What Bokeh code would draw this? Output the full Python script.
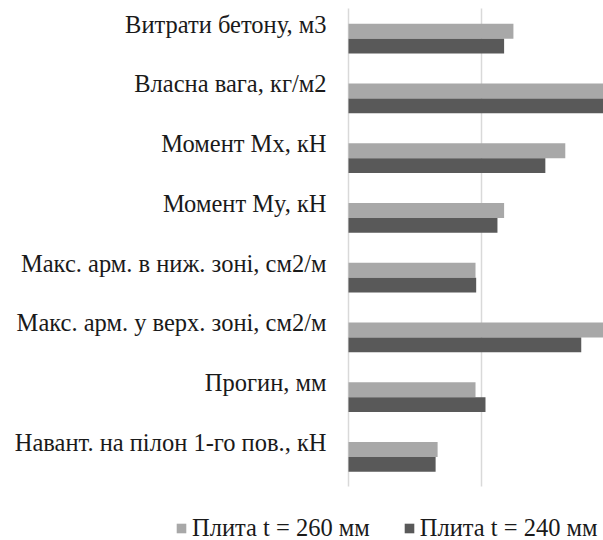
from bokeh.plotting import figure
from bokeh.models import Range1d, Legend, LegendItem, ColumnDataSource
from bokeh.core.properties import value
from bokeh.transform import dodge
from bokeh.embed import file_html
from bokeh.resources import INLINE

categories = [
    "Витрати бетону, м3",
    "Власна вага, кг/м2",
    "Момент Mx, кН",
    "Момент My, кН",
    "Макс. арм. в ниж. зоні, см2/м",
    "Макс. арм. у верх. зоні, см2/м",
    "Прогин, мм",
    "Навант. на пілон 1-го пов., кН",
]
series_names = ["Плита t = 260 мм", "Плита t = 240 мм"]
plate_260 = [1.24, 2.00, 1.63, 1.17, 0.955, 2.00, 0.955, 0.67]
plate_240 = [1.17, 2.00, 1.48, 1.12, 0.96, 1.75, 1.03, 0.655]
grid_values = [0, 1]

FONT = "Liberation Serif"
LIGHT = "#a8a8a8"
DARK = "#595959"
TEXT = "#1a1a1a"
GRID = "#d9d9d9"

W, H = 603, 540
ZERO_X = 348          # pixel position of the value axis origin
PX_X = 133            # pixels per value unit
TOP_LABEL_Y = 23.5    # pixel centre of the first category label
PX_Y = 59.75          # pixels per category

n = len(categories)
pos = list(range(n - 1, -1, -1))  # top category gets the highest position

x_range = Range1d(-ZERO_X / PX_X, (W - ZERO_X) / PX_X)
y_top = (n - 1) + TOP_LABEL_Y / PX_Y
y_range = Range1d(y_top - H / PX_Y, y_top)

src = ColumnDataSource(data=dict(cat=categories, pos=pos, a=plate_260, b=plate_240))

p = figure(
    frame_width=W, frame_height=H,
    x_range=x_range, y_range=y_range,
    output_backend="svg", toolbar_location=None,
    min_border=0, min_border_left=0, min_border_right=0,
    min_border_top=0, min_border_bottom=0,
)
p.outline_line_color = None
p.xaxis.visible = False
p.yaxis.visible = False
p.xgrid.visible = False
p.ygrid.visible = False

# vertical gridlines (incl. zero line) spanning the category area
p.segment(x0=grid_values, x1=grid_values,
          y0=[-0.74] * len(grid_values), y1=[n - 0.74] * len(grid_values),
          line_color=GRID, line_width=1.5)

r1 = p.hbar(y=dodge("pos", -0.12), right="a", left=0, height=0.25,
            source=src, fill_color=LIGHT, line_color=None)
r2 = p.hbar(y=dodge("pos", -0.37), right="b", left=0, height=0.25,
            source=src, fill_color=DARK, line_color=None)

# category labels
p.text(x=0, y="pos", text="cat", source=src, x_offset=-22,
       text_align="right", text_baseline="middle",
       text_font=value(FONT), text_font_size="24.5px", text_color=TEXT)

legend = Legend(
    items=[LegendItem(label=series_names[0], renderers=[r1]),
           LegendItem(label=series_names[1], renderers=[r2])],
    orientation="horizontal", location=(175, -2),
    label_text_font=FONT, label_text_font_size="24.5px", label_text_color=TEXT,
    glyph_width=12, glyph_height=12, spacing=33, label_standoff=5,
    border_line_color=None, background_fill_alpha=0, padding=0, margin=0,
)
p.add_layout(legend, "center")

open("out.html", "w").write(file_html(p, INLINE))
